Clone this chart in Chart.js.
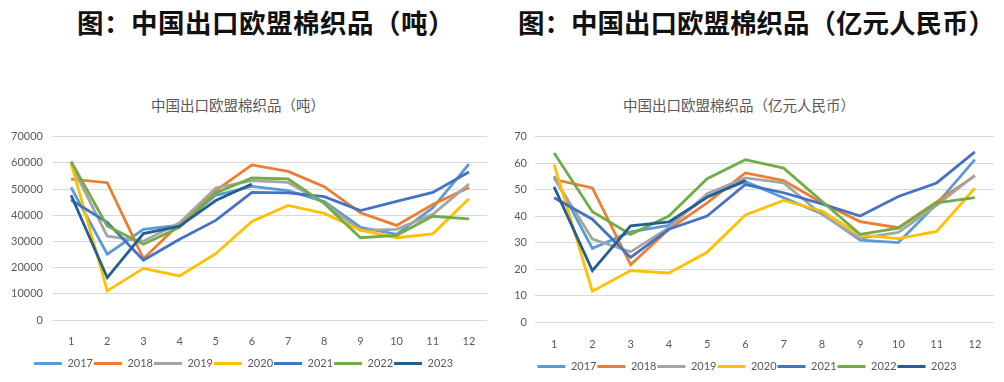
<!DOCTYPE html>
<html><head><meta charset="utf-8">
<script src="https://cdn.jsdelivr.net/npm/chart.js@4"></script>
<style>
html,body{margin:0;padding:0;background:#fff;width:1004px;height:382px;overflow:hidden;position:relative;font-family:"Noto Sans CJK SC",sans-serif;}
.t{position:absolute;top:5px;font-size:26.5px;font-weight:700;color:#111;white-space:nowrap;line-height:34px}
.s{position:absolute;top:95px;font-size:14.5px;color:#595959;white-space:nowrap;line-height:20px;transform:translateX(-50%)}
canvas{position:absolute}
</style></head><body>
<div class="t" style="left:77px;letter-spacing:0.5px">图：中国出口欧盟棉织品（吨）</div>
<div class="t" style="left:518px">图：中国出口欧盟棉织品（亿元人民币）</div>
<div class="s" style="left:238px">中国出口欧盟棉织品（吨）</div>
<div class="s" style="left:739px">中国出口欧盟棉织品（亿元人民币）</div>
<canvas id="c1" width="500" height="262" style="left:0;top:120px"></canvas>
<canvas id="c2" width="504" height="262" style="left:500px;top:122px"></canvas>
<script>
const months = ['1','2','3','4','5','6','7','8','9','10','11','12'];
const years = ['2017','2018','2019','2020','2021','2022','2023'];
const colors = ['#5B9BD5','#ED7D31','#A5A5A5','#FFC000','#4472C4','#70AD47','#255E91'];

// 吨
const ton2017 = [50600, 25100, 34600, 36200, 47600, 51000, 49400, 45200, 35400, 32700, 42800, 59500];
const ton2018 = [53800, 52400, 23400, 36700, 49400, 59200, 56700, 50900, 40900, 36100, 44100, 50600];
const ton2019 = [59500, 32000, 30100, 37100, 50400, 53200, 52500, 44600, 34200, 34600, 40300, 51900];
const ton2020 = [59900, 11100, 19700, 16800, 25300, 37600, 43700, 40700, 34300, 31400, 32900, 46300];
const ton2021 = [45800, 37300, 22800, 30800, 38000, 48700, 48500, 47100, 41800, 45300, 48700, 56500];
const ton2022 = [60500, 35900, 28900, 35400, 48500, 54200, 53900, 44500, 31400, 32300, 39600, 38600];
const ton2023 = [47600, 16200, 33000, 35800, 45600, 51900];
const tonTicks = ['0','10000','20000','30000','40000','50000','60000','70000'];

// 亿元人民币
const rmb2017 = [55.0, 27.8, 34.0, 36.5, 47.5, 53.0, 46.9, 40.9, 30.9, 30.0, 44.5, 61.3];
const rmb2018 = [53.8, 50.6, 21.6, 35.0, 45.0, 56.3, 53.4, 45.0, 37.9, 35.6, 45.3, 55.2];
const rmb2019 = [54.4, 31.3, 26.5, 35.6, 48.4, 54.4, 52.5, 40.6, 31.6, 33.8, 44.0, 55.4];
const rmb2020 = [59.4, 11.6, 19.4, 18.5, 26.3, 40.4, 45.9, 41.9, 32.9, 31.5, 34.2, 50.5];
const rmb2021 = [46.9, 38.8, 24.4, 35.0, 40.0, 51.9, 48.8, 44.6, 40.0, 47.4, 52.5, 64.2];
const rmb2022 = [63.8, 41.6, 33.1, 40.0, 54.1, 61.3, 58.1, 45.6, 33.1, 35.4, 45.0, 47.0];
const rmb2023 = [51.0, 19.4, 36.3, 37.8, 47.1, 53.4];
const rmbTicks = ['0','10','20','30','40','50','60','70'];

const tonSeries = [ton2017, ton2018, ton2019, ton2020, ton2021, ton2022, ton2023];
const rmbSeries = [rmb2017, rmb2018, rmb2019, rmb2020, rmb2021, rmb2022, rmb2023];

const FONT = 'Lato, "Liberation Sans", sans-serif';
const GREY = '#595959';

function makeChart(id, series, ticks, step, cfg) {
  const datasets = series.map((d, i) => ({
    label: years[i],
    data: d,
    borderColor: colors[i],
    backgroundColor: colors[i],
    borderWidth: 2.8,
    pointRadius: 0,
    pointHoverRadius: 0,
    fill: false,
    tension: 0,
    order: 20 - i
  }));
  return new Chart(document.getElementById(id), {
    type: 'line',
    data: { labels: months, datasets },
    options: {
      responsive: false,
      animation: false,
      devicePixelRatio: 1,
      layout: { padding: cfg.padding },
      plugins: {
        title: { display: false },
        tooltip: { enabled: false },
        legend: {
          position: 'bottom',
          labels: {
            sort: (a, b) => a.datasetIndex - b.datasetIndex,
            color: GREY,
            font: { family: FONT, size: 11 },
            boxWidth: 28,
            boxHeight: 3,
            padding: 1,
            generateLabels: (chart) => Chart.defaults.plugins.legend.labels.generateLabels(chart).map(l => {
              l.fillStyle = colors[l.datasetIndex];
              l.strokeStyle = colors[l.datasetIndex];
              l.lineWidth = 0;
              return l;
            })
          }
        }
      },
      scales: {
        x: {
          offset: true,
          grid: { display: false, offset: true },
          border: { display: false },
          ticks: { color: GREY, font: { family: FONT, size: 11 }, padding: cfg.xPad, maxRotation: 0, autoSkip: false },
          afterFit: (s) => { s.height = cfg.xH; }
        },
        y: {
          min: 0,
          max: Number(ticks[ticks.length - 1]),
          grid: { color: '#D9D9D9', lineWidth: 1, drawTicks: false },
          border: { display: false },
          ticks: {
            stepSize: step,
            color: GREY,
            font: { family: FONT, size: 11 },
            padding: cfg.yPad,
            callback: (v) => ticks[Math.round(v / step)]
          },
          afterFit: (s) => { s.width = cfg.yW; }
        }
      }
    }
  });
}

makeChart('c1', tonSeries, tonTicks, 10000, {
  padding: { left: 0, right: 13, top: 15, bottom: 3 },
  xPad: 7, xH: 37, yPad: 10, yW: 53
});
makeChart('c2', rmbSeries, rmbTicks, 10, {
  padding: { left: 0, right: 10, top: 13, bottom: 2 },
  xPad: 8, xH: 38, yPad: 8, yW: 35
});
</script>
</body></html>
